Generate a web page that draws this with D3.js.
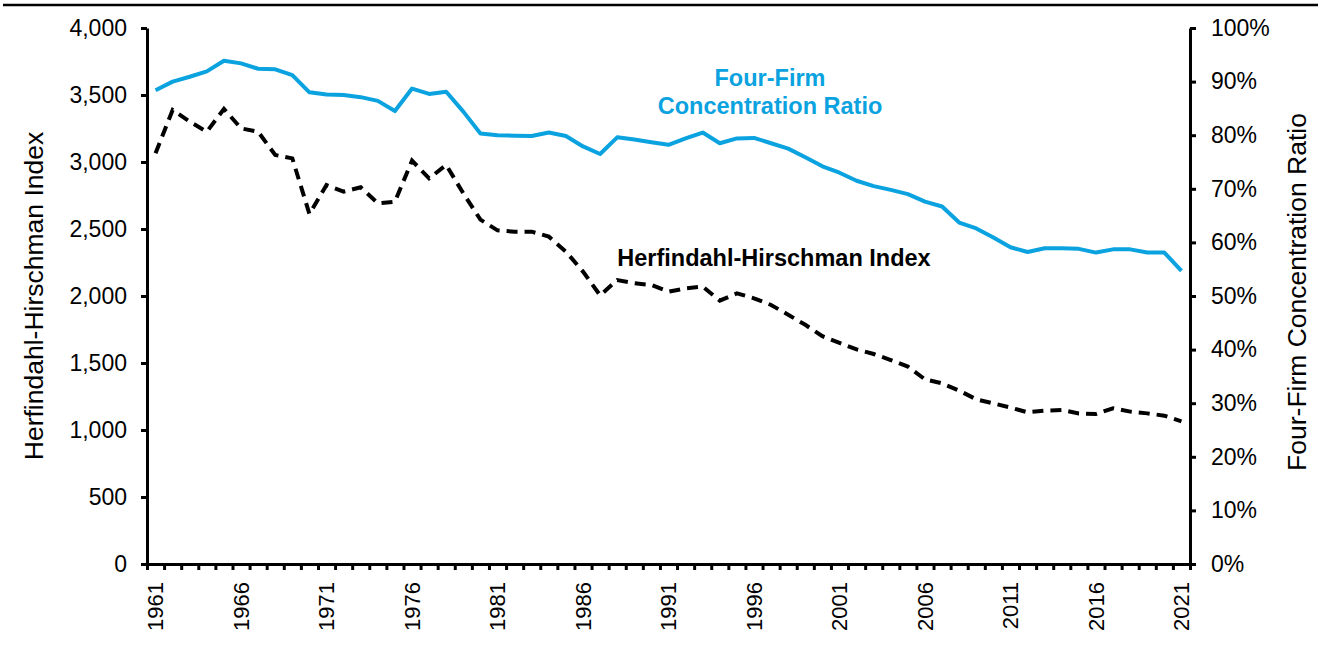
<!DOCTYPE html>
<html>
<head>
<meta charset="utf-8">
<script src="https://cdn.jsdelivr.net/npm/d3@7"></script>
<style>
  body { margin: 0; background: #fff; }
  svg text { font-family: "Liberation Sans", Arial, sans-serif; }
</style>
</head>
<body>
<div id="chart"></div>
<script>
var years = d3.range(1961, 2022);
var hhi = [3065, 3388, 3301, 3226, 3396, 3251, 3226, 3052, 3027, 2612,
  2828, 2779, 2811, 2692, 2704, 3010, 2878, 2978, 2766, 2570,
  2490, 2480, 2480, 2443, 2331, 2182, 2005, 2119, 2095, 2082,
  2032, 2057, 2070, 1965, 2020, 1983, 1933, 1860, 1785, 1700,
  1650, 1602, 1567, 1522, 1473, 1378, 1348, 1294, 1229, 1199,
  1167, 1132, 1144, 1149, 1124, 1119, 1162, 1137, 1124, 1107, 1065];
var cr4 = [88.4, 90.0, 90.9, 91.9, 93.9, 93.4, 92.4, 92.3, 91.2, 88.0,
  87.6, 87.5, 87.1, 86.4, 84.5, 88.7, 87.7, 88.1, 84.4, 80.3,
  80.0, 79.9, 79.85, 80.5, 79.85, 77.9, 76.5, 79.6, 79.2, 78.7,
  78.2, 79.4, 80.5, 78.5, 79.4, 79.5, 78.5, 77.5, 75.9, 74.2,
  73.0, 71.5, 70.5, 69.8, 69.0, 67.6, 66.7, 63.7, 62.6, 60.9,
  59.1, 58.2, 58.9, 58.9, 58.8, 58.1, 58.7, 58.7, 58.1, 58.1, 54.7];
var hhiTicks = d3.range(0, 4001, 500);
var pctTicks = d3.range(0, 101, 10);
var labelYears = years.filter(function (y) { return (y - 1961) % 5 == 0; });

var width = 1325, height = 656;
var plotLeft = 147, plotRight = 1190, plotTop = 28, plotBottom = 564;
var blue = "#0BA2E0";

var svg = d3.select("#chart").append("svg")
  .attr("width", width).attr("height", height);

// top rule
svg.append("line").attr("x1", 3).attr("x2", 1318).attr("y1", 5).attr("y2", 5)
  .attr("stroke", "#000").attr("stroke-width", 2.5);

var x = d3.scaleBand().domain(years).range([plotLeft, plotRight]).padding(0);
var xEdge = d3.scaleLinear().domain([0, years.length]).range([plotLeft, plotRight]);
var yL = d3.scaleLinear().domain([0, 4000]).range([plotBottom, plotTop]);
var yR = d3.scaleLinear().domain([0, 100]).range([plotBottom, plotTop]);

function styleAxis(g, size) {
  g.select(".domain").attr("stroke-width", 3);
  g.selectAll(".tick line").attr("stroke-width", 3);
  g.selectAll(".tick text").style("font-size", size + "px").attr("fill", "#000");
}

// left axis
var gl = svg.append("g").attr("transform", "translate(" + plotLeft + ",0)")
  .call(d3.axisLeft(yL).tickValues(hhiTicks).tickSize(6).tickSizeOuter(0)
    .tickPadding(14).tickFormat(d3.format(",")));
styleAxis(gl, 23);

// right axis
var gr = svg.append("g").attr("transform", "translate(" + plotRight + ",0)")
  .call(d3.axisRight(yR).tickValues(pctTicks).tickSize(6).tickSizeOuter(0)
    .tickPadding(15).tickFormat(function (d) { return d + "%"; }));
styleAxis(gr, 23);

// x axis ticks at category boundaries
var gx = svg.append("g").attr("transform", "translate(0," + plotBottom + ")")
  .call(d3.axisBottom(xEdge).tickValues(d3.range(0, years.length + 1))
    .tickSize(6).tickSizeOuter(0).tickFormat(""));
styleAxis(gx, 21);

// x labels
var gxl = svg.append("g").attr("transform", "translate(0," + plotBottom + ")")
  .call(d3.axisBottom(x).tickValues(labelYears).tickSize(0).tickFormat(d3.format("d")));
gxl.select(".domain").remove();
gxl.selectAll(".tick text")
  .style("font-size", "22px").attr("fill", "#000")
  .attr("transform", "rotate(-90)")
  .attr("text-anchor", "end")
  .attr("x", -18).attr("y", 0).attr("dy", "0.36em");

// axis titles
svg.append("text").attr("transform", "translate(43,296) rotate(-90)")
  .attr("text-anchor", "middle").style("font-size", "26.5px").text("Herfindahl-Hirschman Index");
svg.append("text").attr("transform", "translate(1306,292) rotate(-90)")
  .attr("text-anchor", "middle").style("font-size", "26.5px").text("Four-Firm Concentration Ratio");

// lines
var cx = function (d, i) { return x(years[i]) + x.bandwidth() / 2; };
svg.append("path").datum(cr4)
  .attr("d", d3.line().x(cx).y(function (d) { return yR(d); }))
  .attr("fill", "none").attr("stroke", blue).attr("stroke-width", 4)
  .attr("stroke-linejoin", "round");
svg.append("path").datum(hhi)
  .attr("d", d3.line().x(cx).y(function (d) { return yL(d); }))
  .attr("fill", "none").attr("stroke", "#000").attr("stroke-width", 4)
  .attr("stroke-dasharray", "11,7");

// annotations
var ann = svg.append("text").attr("text-anchor", "middle")
  .style("font-size", "23.5px").style("font-weight", "bold").attr("fill", blue);
ann.append("tspan").attr("x", 770).attr("y", 86).text("Four-Firm");
ann.append("tspan").attr("x", 770).attr("y", 114).text("Concentration Ratio");
svg.append("text").attr("x", 774).attr("y", 266).attr("text-anchor", "middle")
  .style("font-size", "23.5px").style("font-weight", "bold")
  .text("Herfindahl-Hirschman Index");
</script>
</body>
</html>
